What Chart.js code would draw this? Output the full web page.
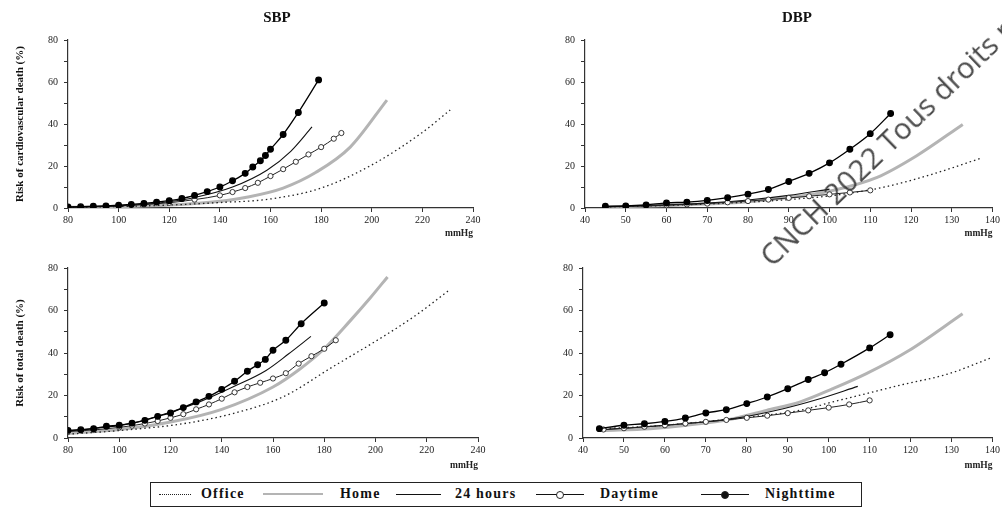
<!DOCTYPE html>
<html>
<head>
<meta charset="utf-8">
<script src="https://cdn.jsdelivr.net/npm/chart.js@4.4.1/dist/chart.umd.min.js"></script>
<style>
html, body { margin: 0; padding: 0; background: #fff; }
#page { position: relative; width: 1002px; height: 508px; overflow: hidden;
  font-family: "Liberation Serif", "DejaVu Serif", serif; color: #111; }
canvas { position: absolute; }
.ttl { position: absolute; top: 9px; font-weight: bold; font-size: 15px; transform: translateX(-50%); }
#legend { position: absolute; left: 150px; top: 482px; width: 710px; height: 23px;
  border: 1.5px solid #222; font-weight: bold; font-size: 14px; letter-spacing: 1.2px; }
.item { display: flex; align-items: center; position: absolute; top: 3px; }
.smp { position: relative; display: inline-block; height: 10px; }
.smp i { position: absolute; left: 0; right: 0; top: 5px; }
.smp b { position: absolute; left: 50%; top: 2px; width: 6px; height: 6px; margin-left: -4px;
  border-radius: 50%; border: 1px solid #222; }
#wm { position: absolute; left: 775px; top: 241px; font-family: "Open Sans", sans-serif; font-size: 29.5px;
  line-height: 30px; white-space: nowrap; color: rgba(45,45,45,0.85); transform-origin: 0 100%;
  transform: rotate(-44deg); }
</style>
</head>
<body>
<div id="page">
  <canvas id="tl" width="500" height="240" style="left:0;top:0"></canvas>
  <canvas id="tr" width="502" height="240" style="left:500px;top:0"></canvas>
  <canvas id="bl" width="500" height="232" style="left:0;top:240px"></canvas>
  <canvas id="br" width="502" height="232" style="left:500px;top:240px"></canvas>
  <div class="ttl" style="left:277px">SBP</div>
  <div class="ttl" style="left:797px">DBP</div>
  <div id="legend">
    <div class="item" style="left:8px"><span class="smp" style="width:32px;margin-right:10px"><i style="border-top:1.6px dotted #222"></i></span>Office</div>
    <div class="item" style="left:112px"><span class="smp" style="width:60px;margin-right:17px"><i style="border-top:2.5px solid #b4b4b4;top:4px"></i></span>Home</div>
    <div class="item" style="left:245px"><span class="smp" style="width:45px;margin-right:14px"><i style="border-top:1.2px solid #111"></i></span>24 hours</div>
    <div class="item" style="left:385px"><span class="smp" style="width:48px;margin-right:16px"><i style="border-top:1.2px solid #111"></i><b style="background:#fff"></b></span>Daytime</div>
    <div class="item" style="left:550px"><span class="smp" style="width:48px;margin-right:16px"><i style="border-top:1.2px solid #111"></i><b style="background:#111"></b></span>Nighttime</div>
  </div>
  <div id="wm">CNCH 2022 Tous droits réservés</div>
</div>
<script>
// SBP - risk of cardiovascular death
const sbpCvOfficeX = [80, 100, 120, 140, 160, 180, 200, 220, 231];
const sbpCvOfficeY = [0.3, 0.7, 1.4, 2.6, 4.3, 9.5, 20.5, 36, 46.7];
const sbpCvHomeX = [80, 100, 120, 140, 150, 165, 178, 191.5, 206];
const sbpCvHomeY = [0.3, 0.6, 1.4, 3.2, 5, 9.5, 17, 29, 51.4];
const sbpCv24hX = [80, 100, 120, 130, 145, 158.6, 168, 176.4];
const sbpCv24hY = [0.4, 1, 3, 5, 10, 18, 27, 38.6];
const sbpCvDayX = [80, 90, 100, 110, 120, 130, 140, 145, 150, 155, 160, 165, 170, 175, 180, 185, 188];
const sbpCvDayY = [0.4, 0.6, 1, 1.6, 2.5, 4, 6, 7.6, 9.5, 12, 15.2, 18.5, 22, 25.5, 29, 33, 35.7];
const sbpCvNightX = [80, 85, 90, 95, 100, 105, 110, 115, 120, 125, 130, 135, 140, 145, 150, 153, 156, 158, 160, 165, 171, 179];
const sbpCvNightY = [0.5, 0.6, 0.8, 1, 1.3, 1.7, 2.2, 2.8, 3.5, 4.5, 6, 7.8, 10, 13, 16.5, 19.5, 22.5, 25, 28, 35, 45.5, 61];

// DBP - risk of cardiovascular death
const dbpCvOfficeX = [45, 60, 80, 90, 101, 113.3, 125.4, 137];
const dbpCvOfficeY = [0.5, 1.2, 2.8, 4, 6, 9.9, 16.2, 23.6];
const dbpCvHomeX = [45, 60, 80, 90, 100, 111.7, 121.4, 132.7];
const dbpCvHomeY = [0.5, 1.2, 3, 5, 8, 14.6, 24.9, 39.8];
const dbpCv24hX = [45, 60, 70, 80, 90, 100];
const dbpCv24hY = [0.6, 1.5, 2.3, 3.8, 6, 9];
const dbpCvDayX = [45, 50, 55, 60, 65, 70, 75, 80, 85, 90, 95, 100, 105, 110];
const dbpCvDayY = [0.5, 0.7, 1, 1.3, 1.7, 2.1, 2.7, 3.3, 4, 4.8, 5.6, 6.5, 7.4, 8.4];
const dbpCvNightX = [45, 50, 55, 60, 65, 70, 75, 80, 85, 90, 95, 100, 105, 110, 115];
const dbpCvNightY = [0.8, 1, 1.5, 2.4, 2.8, 3.6, 4.9, 6.6, 8.8, 12.6, 16.5, 21.5, 28, 35.4, 45];

// SBP - risk of total death
const sbpTdOfficeX = [80, 100, 124.8, 144.3, 163.8, 183.2, 202.7, 215.7, 228.7];
const sbpTdOfficeY = [1.8, 3.5, 6.7, 11.5, 19.3, 33.4, 47.5, 57.7, 69.5];
const sbpTdHomeX = [80, 100, 120, 140, 160, 170, 180, 190, 198, 204.7];
const sbpTdHomeY = [2.2, 4, 7.5, 13.5, 24, 32, 42, 55, 66, 75.8];
const sbpTd24hX = [80, 105.3, 118.3, 131.3, 144.3, 157.3, 166, 174.8];
const sbpTd24hY = [3.2, 7, 11.5, 17, 24, 31.8, 39.5, 47.8];
const sbpTdDayX = [80, 90, 100, 105, 110, 115, 120, 125, 130, 135, 140, 145, 150, 155, 160, 165, 170, 175, 180, 184.5];
const sbpTdDayY = [3, 3.8, 5, 5.8, 6.8, 8, 9.5, 11.2, 13.5, 15.8, 18.5, 21.5, 24, 26, 28, 30.5, 35, 38.5, 42, 46];
const sbpTdNightX = [80, 85, 90, 95, 100, 105, 110, 115, 120, 125, 130, 135, 140, 145, 150, 154, 157, 160, 165, 171, 180];
const sbpTdNightY = [3.6, 3.9, 4.4, 5.5, 6, 7, 8.3, 10.2, 11.8, 14.3, 17, 19.6, 22.9, 26.7, 31.4, 34.5, 37, 41.3, 46, 53.8, 63.5];

// DBP - risk of total death
const dbpTdOfficeX = [44.3, 56.4, 68.6, 80.7, 92.9, 101, 109.2, 117.3, 129.4, 140];
const dbpTdOfficeY = [4.4, 5.5, 7.5, 9.9, 13, 17, 20.9, 24.8, 30.3, 38];
const dbpTdHomeX = [45, 56.4, 65.3, 76.7, 84.8, 92.9, 101, 109.2, 119.7, 132.7];
const dbpTdHomeY = [3.5, 4.4, 6, 9.1, 13, 16.9, 23.2, 30.3, 41.3, 58.5];
const dbpTd24hX = [45, 55, 64.5, 76.7, 88.9, 97, 107.1];
const dbpTd24hY = [4, 5.2, 6.7, 9.1, 13.8, 18, 24.3];
const dbpTdDayX = [45, 50, 55, 60, 65, 70, 75, 80, 85, 90, 95, 100, 105, 110];
const dbpTdDayY = [4, 4.6, 5.3, 6, 6.8, 7.6, 8.5, 9.5, 10.5, 11.7, 13, 14.3, 15.8, 17.7];
const dbpTdNightX = [44, 50, 55, 60, 65, 70, 75, 80, 85, 90, 95, 99, 103, 110, 115];
const dbpTdNightY = [4.4, 6, 6.7, 7.8, 9.4, 11.8, 13.3, 16.2, 19.3, 23.2, 27.5, 30.7, 34.7, 42.4, 48.6];

const yTicks = [0, 20, 40, 60, 80];

const pts = (xs, ys) => xs.map((x, i) => ({ x: x, y: ys[i] }));
const serif = 'Liberation Serif';

// first dataset is drawn on top
function series(night, day, h24, office, home) {
  return [
    { data: night, borderColor: '#000', borderWidth: 1.3, pointRadius: 2.8,
      pointBackgroundColor: '#000', pointBorderColor: '#000' },
    { data: day, borderColor: '#222', borderWidth: 1, pointRadius: 2.6,
      pointBackgroundColor: '#fff', pointBorderColor: '#222', pointBorderWidth: 0.9 },
    { data: h24, borderColor: '#111', borderWidth: 1.1, pointRadius: 0 },
    { data: office, borderColor: '#222', borderWidth: 1.3, borderDash: [1.5, 3], pointRadius: 0 },
    { data: home, borderColor: '#b4b4b4', borderWidth: 3, pointRadius: 0 }
  ];
}

function panel(id, c) {
  new Chart(document.getElementById(id), {
    type: 'line',
    data: { datasets: c.datasets },
    options: {
      responsive: false,
      animation: false,
      layout: { padding: c.pad },
      elements: { line: { cubicInterpolationMode: 'monotone', fill: false } },
      plugins: { legend: { display: false }, tooltip: { enabled: false } },
      scales: {
        x: {
          type: 'linear', min: c.xMin, max: c.xMax,
          ticks: { stepSize: c.xStep, autoSkip: false, maxRotation: 0, padding: 2,
            color: '#222', font: { family: serif, size: 10 } },
          grid: { drawOnChartArea: false, drawTicks: true, tickLength: 4, color: '#333' },
          border: { color: '#333', width: 1.2 },
          title: { display: true, text: 'mmHg', align: 'end', color: '#222',
            font: { family: serif, size: 9.5, weight: 'bold' }, padding: { top: 0, bottom: 1 } },
          afterFit: s => { s.height = c.xh; }
        },
        y: {
          min: yTicks[0], max: yTicks[yTicks.length - 1],
          ticks: { stepSize: 10, autoSkip: false, padding: 6, color: '#222',
            font: { family: serif, size: 10 },
            callback: v => yTicks.includes(v) ? v : '' },
          grid: { drawOnChartArea: false, drawTicks: true, tickLength: 4, color: '#333' },
          border: { color: '#333', width: 1.2 },
          title: { display: !!c.yTitle, text: c.yTitle || '', color: '#111',
            font: { family: serif, size: 11, weight: 'bold' }, padding: { top: 14, bottom: 0 } },
          afterFit: s => { s.width = c.yw; }
        }
      }
    }
  });
}

panel('tl', {
  xMin: 80, xMax: 240, xStep: 20, yw: 68, xh: 32,
  pad: { top: 40, right: 27, left: 0, bottom: 0 },
  yTitle: 'Risk of cardiovascular death (%)',
  datasets: series(pts(sbpCvNightX, sbpCvNightY), pts(sbpCvDayX, sbpCvDayY), pts(sbpCv24hX, sbpCv24hY),
    pts(sbpCvOfficeX, sbpCvOfficeY), pts(sbpCvHomeX, sbpCvHomeY))
});
panel('tr', {
  xMin: 40, xMax: 140, xStep: 10, yw: 85, xh: 32,
  pad: { top: 40, right: 7, left: 0, bottom: 0 },
  datasets: series(pts(dbpCvNightX, dbpCvNightY), pts(dbpCvDayX, dbpCvDayY), pts(dbpCv24hX, dbpCv24hY),
    pts(dbpCvOfficeX, dbpCvOfficeY), pts(dbpCvHomeX, dbpCvHomeY))
});
panel('bl', {
  xMin: 80, xMax: 240, xStep: 20, yw: 68, xh: 34,
  pad: { top: 28, right: 22, left: 0, bottom: 0 },
  yTitle: 'Risk of total death (%)',
  datasets: series(pts(sbpTdNightX, sbpTdNightY), pts(sbpTdDayX, sbpTdDayY), pts(sbpTd24hX, sbpTd24hY),
    pts(sbpTdOfficeX, sbpTdOfficeY), pts(sbpTdHomeX, sbpTdHomeY))
});
panel('br', {
  xMin: 40, xMax: 140, xStep: 10, yw: 83, xh: 34,
  pad: { top: 28, right: 9, left: 0, bottom: 0 },
  datasets: series(pts(dbpTdNightX, dbpTdNightY), pts(dbpTdDayX, dbpTdDayY), pts(dbpTd24hX, dbpTd24hY),
    pts(dbpTdOfficeX, dbpTdOfficeY), pts(dbpTdHomeX, dbpTdHomeY))
});
</script>
</body>
</html>
